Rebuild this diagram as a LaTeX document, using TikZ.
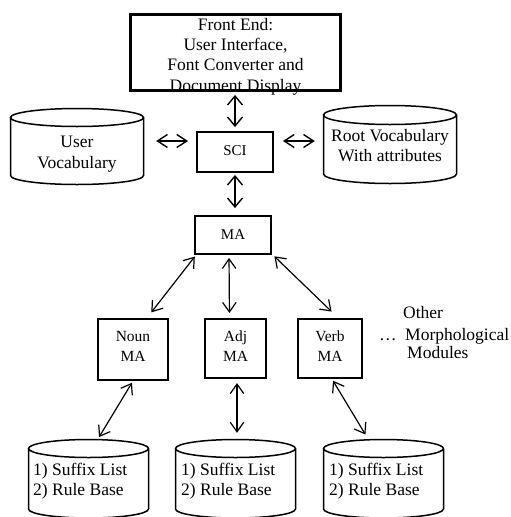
\documentclass[tikz,border=0pt]{standalone}
\usepackage{fontspec}
\setmainfont{Liberation Serif}
\usetikzlibrary{arrows.meta,calc}

\newcommand\mycyl[5]{% x1, x2, ytop, ybot, ry
  \pgfmathsetmacro\cylrx{(#2-#1)/2}%
  \pgfmathsetmacro\cylcx{(#1+#2)/2}%
  \draw[cylline] (\cylcx,#3+#5) ellipse[x radius=\cylrx pt, y radius=#5 pt];
  \draw[cylline] (#1,#3+#5) -- (#1,#4-#5)
     arc[start angle=180, end angle=360, x radius=\cylrx pt, y radius=#5 pt]
     -- (#2,#3+#5);
}

\begin{document}
\begin{tikzpicture}[x=1pt,y=-1pt,
  big/.style={font=\fontsize{17.5}{20.3}\selectfont},
  mid/.style={font=\fontsize{15.5}{20}\selectfont},
  small/.style={font=\fontsize{15}{17}\selectfont},
  bigbox/.style={draw, line width=2.8pt, inner sep=0pt},
  box/.style={draw, line width=2.4pt, inner sep=0pt},
  modbox/.style={draw, line width=2.1pt, inner sep=0pt},
  cylline/.style={line width=1.5pt},
  cylarea/.style={inner sep=0pt},
  arr/.style={line width=1.4pt, {Straight Barb[length=9pt,width=15pt,line width=1.4pt]}-{Straight Barb[length=9pt,width=15pt,line width=1.4pt]}},
  harr/.style={line width=1.4pt, {Straight Barb[length=10pt,width=13pt,line width=1.4pt]}-{Straight Barb[length=10pt,width=13pt,line width=1.4pt]}},
  darr/.style={line width=1.2pt, {Straight Barb[length=9.5pt,width=13.5pt,line width=1.2pt]}-{Straight Barb[length=9.5pt,width=13.5pt,line width=1.2pt]}},
  lbl/.style={inner sep=0pt, align=center, anchor=base},
]
\useasboundingbox (0,0) rectangle (511,517);

% boxes
\node[big, lbl] (fetext) at (235.5,91) {Front End:\\User Interface,\\Font Converter and\\Document Display};
\node[bigbox, minimum width=210pt, minimum height=76pt] (fe) at (235.5,52.5) {};
\node[box, minimum width=75.5pt, minimum height=39.5pt] (sci) at (235,152) {};
\node[small, lbl] (scitext) at (235,155) {SCI};
\node[box, minimum width=75.5pt, minimum height=37.5pt] (ma) at (233,235) {};
\node[small, lbl] (matext) at (233,239.5) {MA};
\node[modbox, minimum width=70pt, minimum height=61pt] (noun) at (133,349.5) {};
\node[mid, lbl] (nountext) at (133,361.5) {Noun\\MA};
\node[modbox, minimum width=61pt, minimum height=59pt] (adj) at (235.5,348.5) {};
\node[mid, lbl] (adjtext) at (235.5,361.5) {Adj\\MA};
\node[modbox, minimum width=64pt, minimum height=59pt] (verb) at (330,348.5) {};
\node[mid, lbl] (verbtext) at (330,361.5) {Verb\\MA};

% cylinders
\mycyl{10.5}{143.5}{108.5}{184.5}{9}
\node[cylarea, minimum width=134pt, minimum height=77pt] (uv) at (77,146.5) {};
\node[big, lbl] (uvtext) at (77,168) {User\\Vocabulary};
\mycyl{323.5}{456.5}{105.5}{183.5}{9.5}
\node[cylarea, minimum width=134pt, minimum height=79pt] (rv) at (390,144.5) {};
\node[big, lbl] (rvtext) at (390,161.7) {Root Vocabulary\\With attributes};

\mycyl{28.5}{148.5}{439.5}{518}{9}
\node[cylarea, minimum width=121pt, minimum height=79pt] (b1) at (88.5,478.5) {};
\node[big, inner sep=0pt, align=left, anchor=base west] (b1text) at (33,495.7) {1) Suffix List\\2) Rule Base};
\mycyl{175.5}{295.5}{439.5}{518}{9}
\node[cylarea, minimum width=121pt, minimum height=79pt] (b2) at (235.5,478.5) {};
\node[big, inner sep=0pt, align=left, anchor=base west] (b2text) at (181,495.7) {1) Suffix List\\2) Rule Base};
\mycyl{323.5}{443.5}{439.5}{518}{9}
\node[cylarea, minimum width=121pt, minimum height=79pt] (b3) at (383.5,478.5) {};
\node[big, inner sep=0pt, align=left, anchor=base west] (b3text) at (329,495.7) {1) Suffix List\\2) Rule Base};

% other modules
\node[big, inner sep=0pt, anchor=base west] (other) at (403,318.3) {Other};
\node[big, inner sep=0pt, anchor=base west] (morph) at (405,340) {Morphological};
\node[big, inner sep=0pt, anchor=base west] (modules) at (407,358.3) {Modules};
\node[big, inner sep=0pt, anchor=base west] (dots) at (379,340) {\dots};

% connectors
\draw[arr, shorten <=3pt, shorten >=4pt] (fe.south -| sci.north) -- (sci.north);
\draw[arr, shorten <=2pt, shorten >=7pt] (sci.south) -- (sci.south |- ma.north);
\draw[harr, shorten <=12pt, shorten >=8pt] ([yshift=5.5pt]uv.east) -- ([yshift=11pt]sci.west);
\draw[harr, shorten <=9pt, shorten >=8pt] ([yshift=11pt]sci.east) -- ([yshift=3.5pt]rv.west);

\draw[darr, shorten <=2pt, shorten >=2pt] ([xshift=2pt]ma.south west) -- ([xshift=-19pt,yshift=4pt]noun.north east);
\draw[darr, shorten <=3pt, shorten >=5pt] ([xshift=-4pt]ma.south) -- ([xshift=-6pt]adj.north);
\draw[darr, shorten <=2pt, shorten >=2pt] ([xshift=1pt]ma.south east) -- ([xshift=3pt,yshift=5pt]verb.north);

\draw[darr, shorten <=2pt, shorten >=2pt] (noun.south) -- ([xshift=9.5pt]b1.north);
\draw[darr, shorten <=4pt, shorten >=6pt] ([xshift=1.5pt]adj.south) -- ([xshift=1.5pt]b2.north);
\draw[darr, shorten <=2pt, shorten >=5pt] ([xshift=2pt]verb.south) -- ([xshift=-15.5pt]b3.north);
\end{tikzpicture}
\end{document}
